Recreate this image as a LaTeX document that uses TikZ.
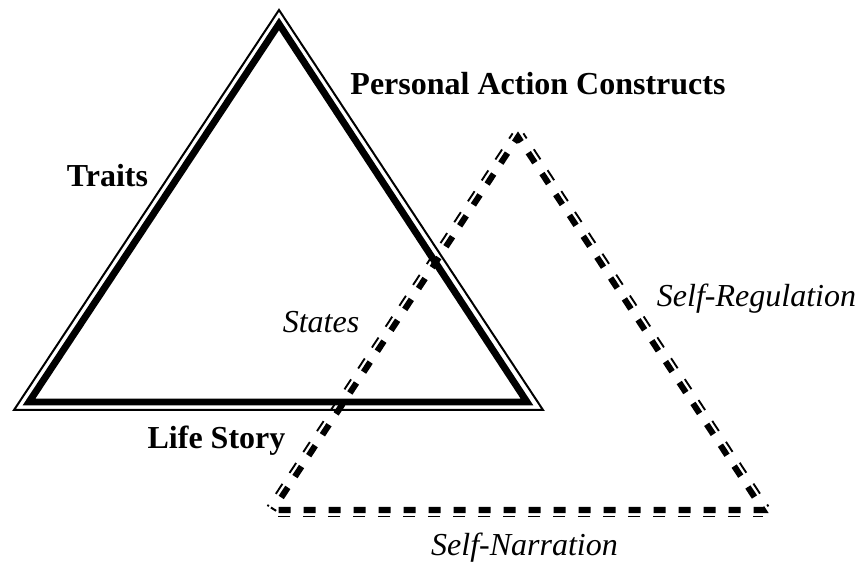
\documentclass[tikz,border=0pt]{standalone}
\usepackage{fontspec}
\setmainfont{Liberation Serif}
\usetikzlibrary{calc}
\tikzset{
  lbl/.style={anchor=base, inner sep=0pt, font=\fontsize{24}{28}\selectfont\bfseries},
  ilbl/.style={anchor=base, inner sep=0pt, font=\fontsize{24}{28}\selectfont\itshape},
  thickline/.style={line width=5.2pt, line join=miter},
  thinline/.style={line width=1.5pt, line join=miter},
  thickdash/.style={line width=4.6pt, line join=miter, dash pattern=on 9pt off 9.75pt},
  thindash/.style={line width=1.4pt, dash pattern=on 9pt off 9.75pt}
}
\begin{document}
\begin{tikzpicture}[x=0.75pt, y=-0.75pt]
\useasboundingbox (0,0) rectangle (858,563);
% dashed triangle
\coordinate (DA) at (518,137);
\coordinate (DB) at (273,510);
\coordinate (DC) at (763,510);
\draw[thickdash, dash phase=7.5pt] (DB) -- (DA) -- (DC) -- cycle;
\draw[thindash, dash phase=7.5pt] ($(DB)+(-5.4,-3.6)$) -- ($(DA)+(-5.4,-3.6)$);
\draw[thindash, dash phase=4.5pt] ($(DA)+(5.4,-3.6)$) -- ($(DC)+(5.4,-3.6)$);
\draw[thindash, dash phase=1.5pt] ($(DC)+(0,6.5)$) -- ($(DB)+(0,6.5)$);
% solid triangle
\coordinate (SA) at (279,24);
\coordinate (SB) at (29,402);
\coordinate (SC) at (527,402);
\coordinate (TA) at (279,10);
\coordinate (TB) at (14,410);
\coordinate (TC) at (543,410);
\draw[thickline] (SA) -- (SB) -- (SC) -- cycle;
\draw[thinline] (TA) -- (TB) -- (TC) -- cycle;
% labels
\node[lbl] (pac) at (538,95) {Personal Action Constructs};
\node[lbl] (traits) at (107.5,187) {Traits};
\node[lbl] (life) at (216.5,448) {Life Story};
\node[ilbl] (sreg) at (756.5,307) {Self-Regulation};
\node[ilbl] (snar) at (524.5,555) {Self-Narration};
\node[ilbl] (states) at (321,333) {States};
\end{tikzpicture}
\end{document}
